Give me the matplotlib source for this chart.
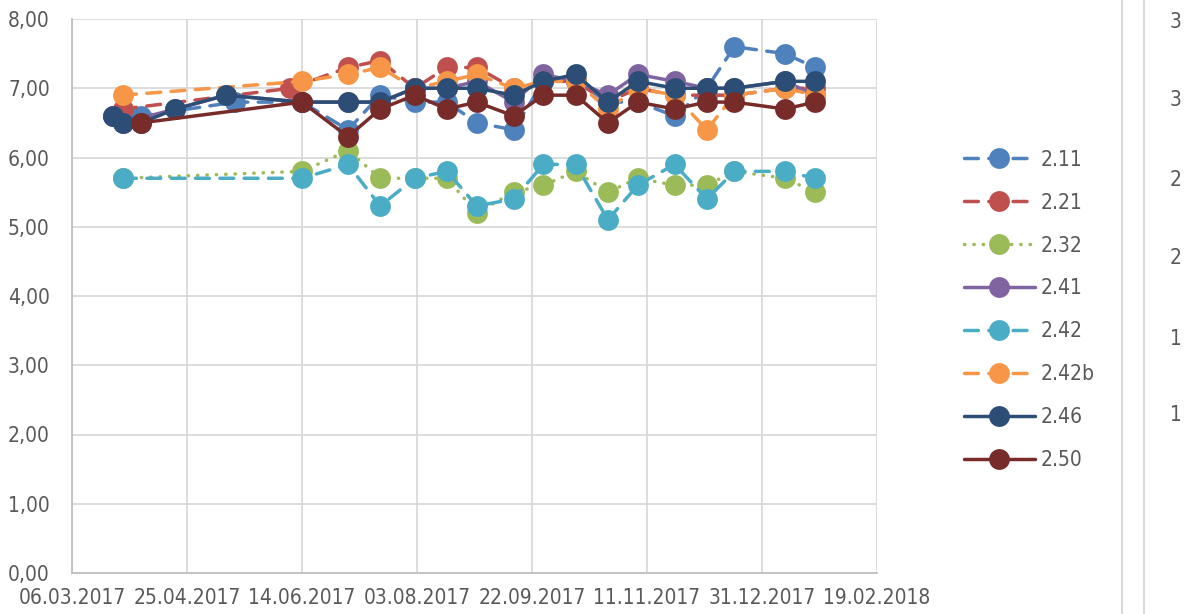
import numpy as np
import matplotlib
matplotlib.use("Agg")
import matplotlib.pyplot as plt
from matplotlib.ticker import FuncFormatter, MultipleLocator
import datetime as dt

plt.rcParams['font.family'] = ['DejaVu Sans']
plt.rcParams['font.stretch'] = 'condensed'

dates = ['2017-03-24', '2017-03-28', '2017-04-05', '2017-04-20', '2017-05-12', '2017-05-16',
         '2017-06-09', '2017-06-14', '2017-07-04', '2017-07-18', '2017-08-02', '2017-08-16',
         '2017-08-29', '2017-09-14', '2017-09-27', '2017-10-11', '2017-10-25', '2017-11-07',
         '2017-11-23', '2017-12-07', '2017-12-19', '2018-01-10', '2018-01-23']
n = np.nan
s211 = [6.6, n, 6.6, n, n, 6.8, n, 6.8, 6.4, 6.9, 6.8, 6.8, 6.5, 6.4, 7.1, 7.1, 6.8, 6.8, 6.6, 7.0, 7.6, 7.5, 7.3]
s221 = [n, 6.7, n, n, n, n, 7.0, n, 7.3, 7.4, 7.0, 7.3, 7.3, 7.0, 7.1, 7.1, 6.8, 7.0, 6.9, 6.9, 6.9, 7.0, 7.0]
s232 = [n, 5.7, n, n, n, n, n, 5.8, 6.1, 5.7, 5.7, 5.7, 5.2, 5.5, 5.6, 5.8, 5.5, 5.7, 5.6, 5.6, 5.8, 5.7, 5.5]
s241 = [6.6, 6.5, n, 6.7, 6.9, n, n, 6.8, 6.8, 6.8, 7.0, 7.0, 7.1, 6.8, 7.2, 7.1, 6.9, 7.2, 7.1, 7.0, 7.0, 7.1, 6.9]
s242 = [n, 5.7, n, n, n, n, n, 5.7, 5.9, 5.3, 5.7, 5.8, 5.3, 5.4, 5.9, 5.9, 5.1, 5.6, 5.9, 5.4, 5.8, 5.8, 5.7]
s242b = [n, 6.9, n, n, n, n, n, 7.1, 7.2, 7.3, 7.0, 7.1, 7.2, 7.0, 7.1, 7.1, 6.7, 7.0, 6.9, 6.4, 6.9, 7.0, 6.9]
s246 = [6.6, 6.5, 6.5, 6.7, 6.9, n, n, 6.8, 6.8, 6.8, 7.0, 7.0, 7.0, 6.9, 7.1, 7.2, 6.8, 7.1, 7.0, 7.0, 7.0, 7.1, 7.1]
s250 = [n, n, 6.5, n, n, n, n, 6.8, 6.3, 6.7, 6.9, 6.7, 6.8, 6.6, 6.9, 6.9, 6.5, 6.8, 6.7, 6.8, 6.8, 6.7, 6.8]

labels = ['2.11', '2.21', '2.32', '2.41', '2.42', '2.42b', '2.46', '2.50']
series = [s211, s221, s232, s241, s242, s242b, s246, s250]
colors = ['#4F81BD', '#C0504D', '#9BBB59', '#8064A2', '#4BACC6', '#F79646', '#2C4D75', '#772C2A']
dash = (0, (4, 3))
dot = (0, (0.1, 2.6))
styles = [dash, dash, dot, '-', dash, dash, '-', '-']

x = np.array([dt.datetime.strptime(d, '%Y-%m-%d') for d in dates])

fig = plt.figure(figsize=(11.89, 6.14), dpi=100)
ax = fig.add_axes([72 / 1189, 1 - 573 / 614, 805 / 1189, 554 / 614])

for lab, vals, c, ls in zip(labels, series, colors, styles):
    v = np.array(vals, dtype=float)
    m = ~np.isnan(v)
    ax.plot(x[m], v[m], color=c, linestyle=ls, linewidth=2.5, marker='o', markersize=15,
            markeredgewidth=0, label=lab, dash_capstyle='round', solid_capstyle='round')

start = dt.datetime(2017, 3, 6)
end = dt.datetime(2018, 2, 19)
ax.set_xlim(start, end)
ticks = [start + dt.timedelta(days=50 * i) for i in range(8)]
ax.set_xticks(ticks)
ax.set_xticklabels([t.strftime('%d.%m.%Y') for t in ticks])
ax.set_ylim(0, 8)
ax.yaxis.set_major_locator(MultipleLocator(1))
ax.yaxis.set_major_formatter(FuncFormatter(lambda v, p: ('%.2f' % v).replace('.', ',')))

ax.grid(True, color='#D9D9D9', linewidth=1.3)
ax.set_axisbelow(True)
for sp in ['top', 'right']:
    ax.spines[sp].set_visible(False)
for sp in ['left', 'bottom']:
    ax.spines[sp].set_color('#BFBFBF')
    ax.spines[sp].set_linewidth(1.3)
ax.tick_params(length=0, labelsize=15, colors='#595959')
ax.tick_params(axis='y', pad=16)
ax.tick_params(axis='x', pad=11)

leg = fig.legend(loc='upper left', bbox_to_anchor=(945 / 1189, 1 - 131 / 614), frameon=False,
                 fontsize=15, handlelength=3.4, labelspacing=1.1, handletextpad=0.3)
for t in leg.get_texts():
    t.set_color('#595959')

# edge of the neighbouring chart
fig.add_artist(plt.Line2D([1122 / 1189] * 2, [0, 1], color='#D9D9D9', linewidth=1.5))
fig.add_artist(plt.Line2D([1144 / 1189] * 2, [0, 1], color='#D9D9D9', linewidth=1.5))
for yy, t in zip([22, 100, 180, 258, 339, 415], ['3', '3', '2', '2', '1', '1']):
    fig.text(1170 / 1189, 1 - yy / 614, t, fontsize=15, color='#595959', va='center')

fig.savefig('out.png', dpi=100)
